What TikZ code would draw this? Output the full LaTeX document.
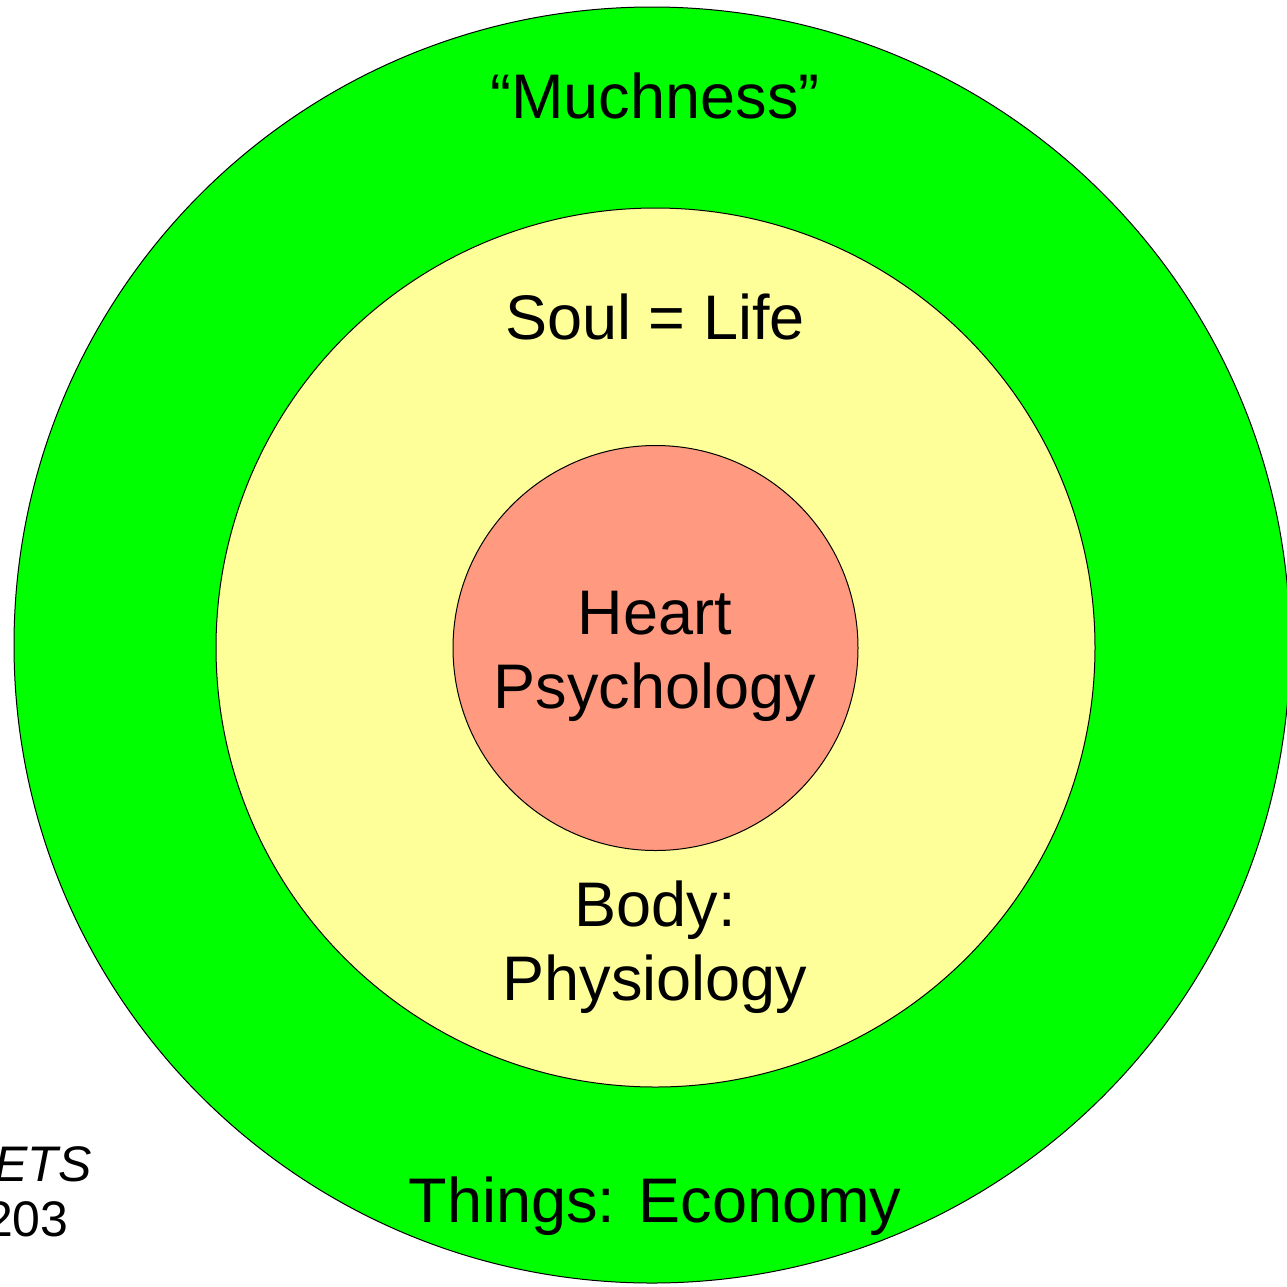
\documentclass[tikz,border=0pt]{standalone}
\usepackage{fontspec}
\setmainfont{Liberation Sans}
\usetikzlibrary{positioning}

\definecolor{muchgreen}{RGB}{0,255,0}
\definecolor{lifeyellow}{RGB}{255,255,153}
\definecolor{heartsalmon}{RGB}{255,153,128}

\begin{document}
\begin{tikzpicture}[
    x=1pt, y=-1pt,
    line width=1pt,
    ring/.style={circle, draw=black, inner sep=0pt},
    label/.style={font=\fontsize{63}{74}\selectfont, align=center, anchor=base, inner sep=0pt},
    note/.style={font=\fontsize{50}{56}\selectfont, anchor=base east, inner sep=0pt}
]

% Frame of the picture
\useasboundingbox (0,0) rectangle (1287,1286);
\clip (0,0) rectangle (1287,1286);

% Rings, from the outside in
\node[ring, fill=muchgreen, minimum size=1276pt] (outer) at (652,645) {};
\node[ring, fill=lifeyellow, minimum size=879pt] (middle) at (655.5,647.5) {};
\node[ring, fill=heartsalmon, minimum size=405pt] (inner) at (655.5,648) {};

% Labels (two-line ones sit on their last baseline)
\node[label] (muchness) at (655,118) {“Muchness”};
\node[label] (soul) at (655,339) {Soul = Life};
\node[label] (heart) at (655,708) {Heart\\Psychology};
\node[label] (body) at (655,1000) {Body:\\Physiology};
\node[label] (things) at (655,1222) {Things: Economy};

% Cut-off note at the left edge
\node[note] (ets) at (92,1181) {\itshape ETS};
\node[note] (year) at (69,1236) {203};

\end{tikzpicture}
\end{document}
